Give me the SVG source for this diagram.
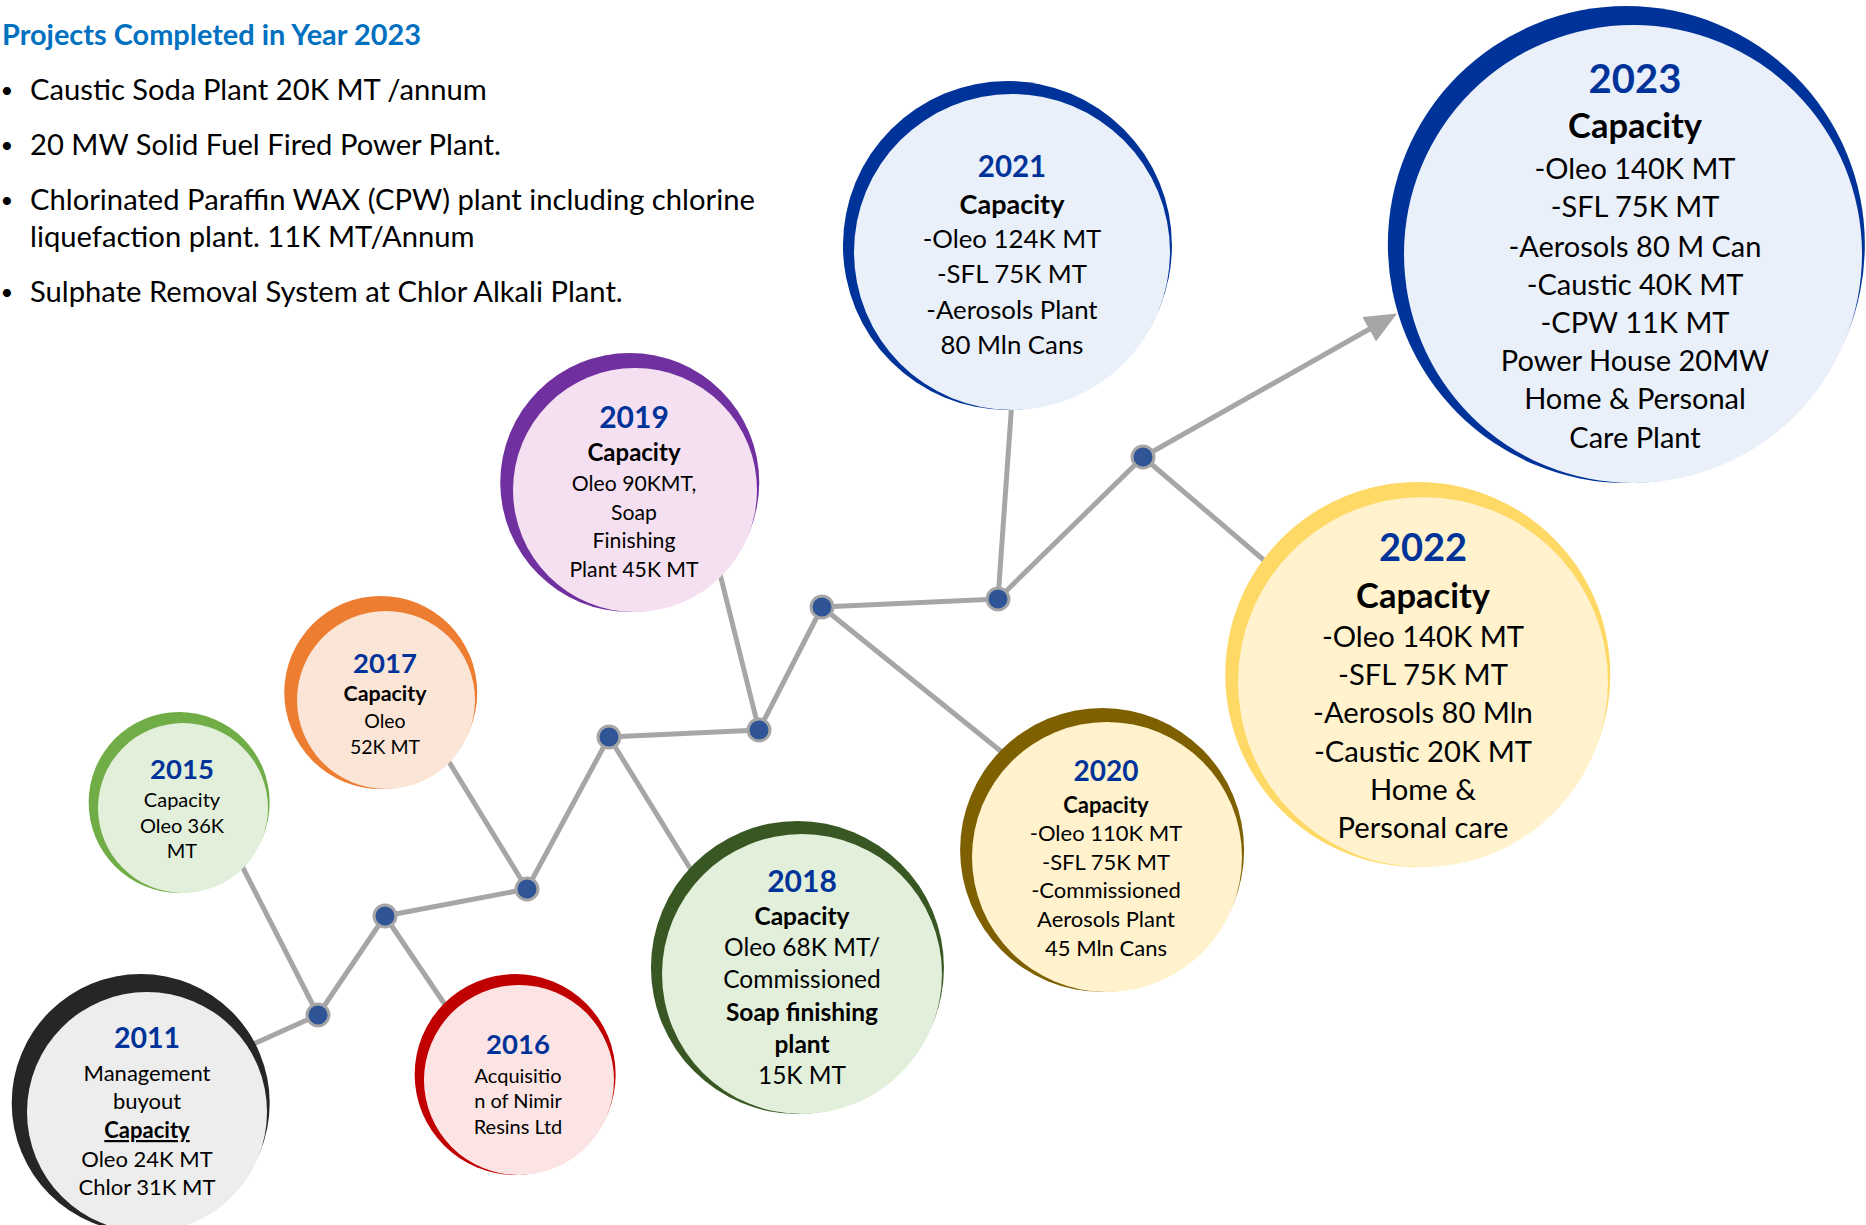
<svg xmlns="http://www.w3.org/2000/svg" width="1866" height="1225" viewBox="0 0 1866 1225">
<style>
text { font-family: Lato, "Liberation Sans", sans-serif; }
.c { text-anchor: middle; fill: #000; }
.yr { text-anchor: middle; fill: #003399; font-weight: 700; }
.bd { font-weight: 700; }
.ul { font-weight: 700; text-decoration: underline; }
.ln { stroke: #A6A6A6; stroke-width: 5; fill: none; stroke-linecap: round; stroke-linejoin: round; }
.dot { fill: #2F5597; stroke: #A6A6A6; stroke-width: 3; }
.title { fill: #0070C0; font-weight: 700; font-size: 28.9px; }
.bul { fill: #000; font-size: 29.2px; }
.bx { fill: #000; font-size: 22px; text-anchor: middle; }
</style>
<defs>
<marker id="ah" markerUnits="userSpaceOnUse" markerWidth="32" markerHeight="28" refX="2" refY="14" orient="auto"><path d="M0,0 L32,14 L0,28 z" fill="#A6A6A6"/></marker>
</defs>
<rect width="1866" height="1225" fill="#FFFFFF"/>

<g id="projects-2023">
<text class="title" x="2" y="45">Projects Completed in Year 2023</text>
<text class="bx" x="7" y="98">•</text>
<text class="bul" x="30" y="100">Caustic Soda Plant 20K MT /annum</text>
<text class="bx" x="7" y="153">•</text>
<text class="bul" x="30" y="155">20 MW Solid Fuel Fired Power Plant.</text>
<text class="bx" x="7" y="208">•</text>
<text class="bul" x="30" y="210">Chlorinated Paraffin WAX (CPW) plant including chlorine</text>
<text class="bul" x="30" y="247">liquefaction plant. 11K MT/Annum</text>
<text class="bx" x="7" y="300">•</text>
<text class="bul" x="30" y="302">Sulphate Removal System at Chlor Alkali Plant.</text>
</g>

<g id="connectors">
<polyline class="ln" points="240,1050 318,1015 385,916 527,889 609,737 759,730 822,607 998,599 1143,457"/>
<line class="ln" x1="240" y1="862" x2="318" y2="1015"/>
<line class="ln" x1="385" y1="916" x2="450" y2="1012"/>
<line class="ln" x1="446" y1="757" x2="527" y2="889"/>
<line class="ln" x1="609" y1="737" x2="693" y2="873"/>
<line class="ln" x1="719" y1="570" x2="759" y2="730"/>
<line class="ln" x1="822" y1="607" x2="1008" y2="757"/>
<line class="ln" x1="1012" y1="400" x2="998" y2="599"/>
<line class="ln" x1="1143" y1="457" x2="1272" y2="567"/>
<line class="ln" x1="1143" y1="457" x2="1370.9" y2="328.3" style="stroke-linecap:butt" marker-end="url(#ah)"/>
<circle class="dot" cx="318" cy="1015" r="11"/>
<circle class="dot" cx="385" cy="916" r="11"/>
<circle class="dot" cx="527" cy="889" r="11"/>
<circle class="dot" cx="609" cy="737" r="11"/>
<circle class="dot" cx="759" cy="730" r="11"/>
<circle class="dot" cx="822" cy="607" r="11"/>
<circle class="dot" cx="998" cy="599" r="11"/>
<circle class="dot" cx="1143" cy="457" r="11"/>
</g>

<g id="node-2011">
<circle cx="140.7" cy="1103" r="129" fill="#262626"/>
<circle cx="147" cy="1112" r="120" fill="#EDEDED"/>
<text class="yr" x="147" y="1048" font-size="28.5">2011</text>
<g class="c" font-size="22">
<text x="147" y="1081">Management</text>
<text x="147" y="1109">buyout</text>
<text class="ul" x="147" y="1138">Capacity</text>
<text x="147" y="1167">Oleo 24K MT</text>
<text x="147" y="1195">Chlor 31K MT</text>
</g>
</g>

<g id="node-2015">
<circle cx="179.15" cy="802.5" r="90.5" fill="#70AD47"/>
<circle cx="183" cy="808" r="85" fill="#E2EFDA"/>
<text class="yr" x="182" y="779" font-size="27.5">2015</text>
<g class="c" font-size="20">
<text x="182" y="807">Capacity</text>
<text x="182" y="833">Oleo 36K</text>
<text x="182" y="858">MT</text>
</g>
</g>

<g id="node-2016">
<circle cx="515.15" cy="1074.5" r="100.5" fill="#C00000"/>
<circle cx="519" cy="1080" r="95" fill="#FDE4E4"/>
<text class="yr" x="518" y="1054" font-size="27.5">2016</text>
<g class="c" font-size="20">
<text x="518" y="1083">Acquisitio</text>
<text x="518" y="1108">n of Nimir</text>
<text x="518" y="1134">Resins Ltd</text>
</g>
</g>

<g id="node-2017">
<circle cx="380.75" cy="692.5" r="96.5" fill="#ED7D31"/>
<circle cx="386" cy="700" r="89" fill="#FBE5D6"/>
<text class="yr" x="385" y="673" font-size="27.5">2017</text>
<g class="c" font-size="19.5">
<text class="bd" x="385" y="701" font-size="21.4">Capacity</text>
<text x="385" y="728">Oleo</text>
<text x="385" y="754">52K MT</text>
</g>
</g>

<g id="node-2019">
<circle cx="629.75" cy="482.5" r="129.5" fill="#7030A0"/>
<circle cx="635" cy="490" r="122" fill="#F5E0F2"/>
<text class="yr" x="634" y="428" font-size="30">2019</text>
<g class="c" font-size="21.2">
<text class="bd" x="634" y="461" font-size="24">Capacity</text>
<text x="634" y="491">Oleo 90KMT,</text>
<text x="634" y="520">Soap</text>
<text x="634" y="548">Finishing</text>
<text x="634" y="577">Plant 45K MT</text>
</g>
</g>

<g id="node-2018">
<circle cx="797.45" cy="967.5" r="146.5" fill="#385723"/>
<circle cx="802" cy="974" r="140" fill="#E2EFDA"/>
<text class="yr" x="802" y="892" font-size="30">2018</text>
<g class="c" font-size="24.5">
<text class="bd" x="802" y="925">Capacity</text>
<text x="802" y="956">Oleo 68K MT/</text>
<text x="802" y="988">Commissioned</text>
<text class="bd" x="802" y="1021">Soap finishing</text>
<text class="bd" x="802" y="1053">plant</text>
<text x="802" y="1084">15K MT</text>
</g>
</g>

<g id="node-2020">
<circle cx="1102.1" cy="850" r="142" fill="#7F6000"/>
<circle cx="1107" cy="857" r="135" fill="#FFF2CC"/>
<text class="yr" x="1106" y="781" font-size="28">2020</text>
<g class="c" font-size="22">
<text class="bd" x="1106" y="813">Capacity</text>
<text x="1106" y="841">-Oleo 110K MT</text>
<text x="1106" y="870">-SFL 75K MT</text>
<text x="1106" y="898">-Commissioned</text>
<text x="1106" y="927">Aerosols Plant</text>
<text x="1106" y="956">45 Mln Cans</text>
</g>
</g>

<g id="node-2021">
<circle cx="1007.45" cy="245.5" r="164.5" fill="#003399"/>
<circle cx="1012" cy="252" r="158" fill="#EAF0FA"/>
<text class="yr" x="1012" y="177" font-size="29.5">2021</text>
<g class="c" font-size="25.8">
<text class="bd" x="1012" y="214" font-size="27">Capacity</text>
<text x="1012" y="248">-Oleo 124K MT</text>
<text x="1012" y="283">-SFL 75K MT</text>
<text x="1012" y="319">-Aerosols Plant</text>
<text x="1012" y="354">80 Mln Cans</text>
</g>
</g>

<g id="node-2022">
<circle cx="1417.75" cy="674.5" r="192.5" fill="#FFD966"/>
<circle cx="1423" cy="682" r="185" fill="#FFF2CC"/>
<text class="yr" x="1423" y="561" font-size="38">2022</text>
<g class="c" font-size="29.2">
<text class="bd" x="1423" y="608" font-size="34.5">Capacity</text>
<text x="1423" y="647">-Oleo 140K MT</text>
<text x="1423" y="685">-SFL 75K MT</text>
<text x="1423" y="723">-Aerosols 80 Mln</text>
<text x="1423" y="762">-Caustic 20K MT</text>
<text x="1423" y="800">Home &amp;</text>
<text x="1423" y="838">Personal care</text>
</g>
</g>

<g id="node-2023">
<circle cx="1626.35" cy="244.5" r="238.5" fill="#003399"/>
<circle cx="1633" cy="254" r="229" fill="#EAF0FA"/>
<text class="yr" x="1635" y="93" font-size="40">2023</text>
<g class="c" font-size="29">
<text class="bd" x="1635" y="138" font-size="34.5">Capacity</text>
<text x="1635" y="179">-Oleo 140K MT</text>
<text x="1635" y="217">-SFL 75K MT</text>
<text x="1635" y="257">-Aerosols 80 M Can</text>
<text x="1635" y="295">-Caustic 40K MT</text>
<text x="1635" y="333">-CPW 11K MT</text>
<text x="1635" y="371">Power House 20MW</text>
<text x="1635" y="409">Home &amp; Personal</text>
<text x="1635" y="448">Care Plant</text>
</g>
</g>
</svg>
